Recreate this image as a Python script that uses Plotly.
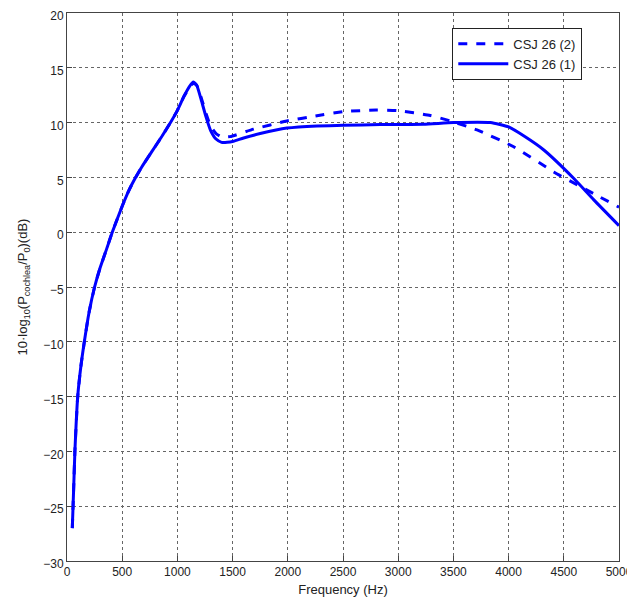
import plotly.graph_objects as go

# CSJ 26 (1) - solid
freq_1 = [48, 60, 72, 97, 125, 157, 200, 250, 300, 360, 410, 505, 560, 616, 680, 768, 860, 943, 994, 1060, 1110, 1145,
          1175, 1215, 1260, 1300, 1350, 1400, 1450, 1508, 1600, 1750, 1992, 2264, 2500, 2838, 3230, 3502,
          3835, 4001, 4150, 4319, 4591, 4772, 5000]
db_1 = [-27.0, -23.5, -19.9, -15.0, -12.3, -10.0, -7.3, -5.0, -3.25, -1.5, 0.0, 2.5, 3.8, 4.9, 6.0, 7.35, 8.75, 10.1, 11.0, 12.4, 13.3, 13.7,
        13.4, 12.1, 10.5, 9.3, 8.5, 8.2, 8.2, 8.3, 8.6, 9.0, 9.5, 9.7, 9.75, 9.82, 9.85, 10.0,
        10.0, 9.6, 8.7, 7.5, 4.9, 2.95, 0.6]

# CSJ 26 (2) - dashed
freq_2 = [48, 60, 72, 97, 125, 157, 200, 250, 300, 360, 410, 505, 560, 616, 680, 768, 860, 943, 994, 1060, 1110, 1145,
          1175, 1215, 1260, 1300, 1350, 1400, 1478, 1689, 1992, 2250, 2505, 2800, 2989, 3291, 3472,
          3714, 4046, 4409, 4651, 5000]
db_2 = [-27.0, -23.5, -19.9, -15.0, -12.3, -10.0, -7.3, -5.0, -3.25, -1.5, 0.0, 2.5, 3.8, 4.9, 6.0, 7.35, 8.75, 10.1, 11.0, 12.4, 13.2, 13.6,
        13.4, 12.3, 10.8, 9.7, 9.0, 8.7, 8.72, 9.4, 10.15, 10.6, 11.0, 11.15, 11.1, 10.64, 10.15,
        9.33, 7.8, 5.5, 4.16, 2.28]

x_ticks = [0, 500, 1000, 1500, 2000, 2500, 3000, 3500, 4000, 4500, 5000]
y_ticks = [-30, -25, -20, -15, -10, -5, 0, 5, 10, 15, 20]

blue = "#0000ff"
fig = go.Figure()
fig.add_trace(go.Scatter(x=freq_2, y=db_2, mode="lines", name="CSJ 26 (2)",
                         line=dict(color=blue, width=3, dash="dash", shape="spline", smoothing=0.5)))
fig.add_trace(go.Scatter(x=freq_1, y=db_1, mode="lines", name="CSJ 26 (1)",
                         line=dict(color=blue, width=3, shape="spline", smoothing=0.5)))

fam = "Liberation Sans, Arial, sans-serif"
font = dict(family=fam, size=12, color="#222")
title_font = dict(family=fam, size=13, color="#222")
axis_common = dict(showgrid=True, gridcolor="#666", griddash="dot", gridwidth=1,
                   showline=True, linecolor="#444", linewidth=1, mirror=True,
                   ticks="inside", ticklen=5, tickcolor="#444", zeroline=False,
                   tickfont=font, automargin=False, ticklabeloverflow="allow")
# page body has an 8px default margin, so the figure is sized to fit inside it
fig.update_layout(
    width=627, height=597,
    margin=dict(l=59, r=16, t=5, b=44),
    plot_bgcolor="white", paper_bgcolor="white",
    font=font,
    showlegend=True,
    legend=dict(x=0.698, y=0.973, xanchor="left", yanchor="top",
                bordercolor="#222", borderwidth=1, bgcolor="white",
                font=dict(family=fam, size=13, color="#222"),
                tracegroupgap=0, itemwidth=50),
    xaxis=dict(range=[0, 5000], tickvals=x_ticks, ticktext=[str(v) for v in x_ticks],
               title=dict(text="Frequency (Hz)", standoff=6, font=title_font), **axis_common),
    yaxis=dict(range=[-30, 20], tickvals=y_ticks, ticktext=[("\u2212" + str(-v)) if v < 0 else str(v) for v in y_ticks],
               ticklabelshift=3,
               title=dict(text="10·log<sub>10</sub>(P<sub>cochlea</sub>/P<sub>0</sub>)(dB)", standoff=12, font=title_font),
               **axis_common),
)
fig.write_html("out.html")
